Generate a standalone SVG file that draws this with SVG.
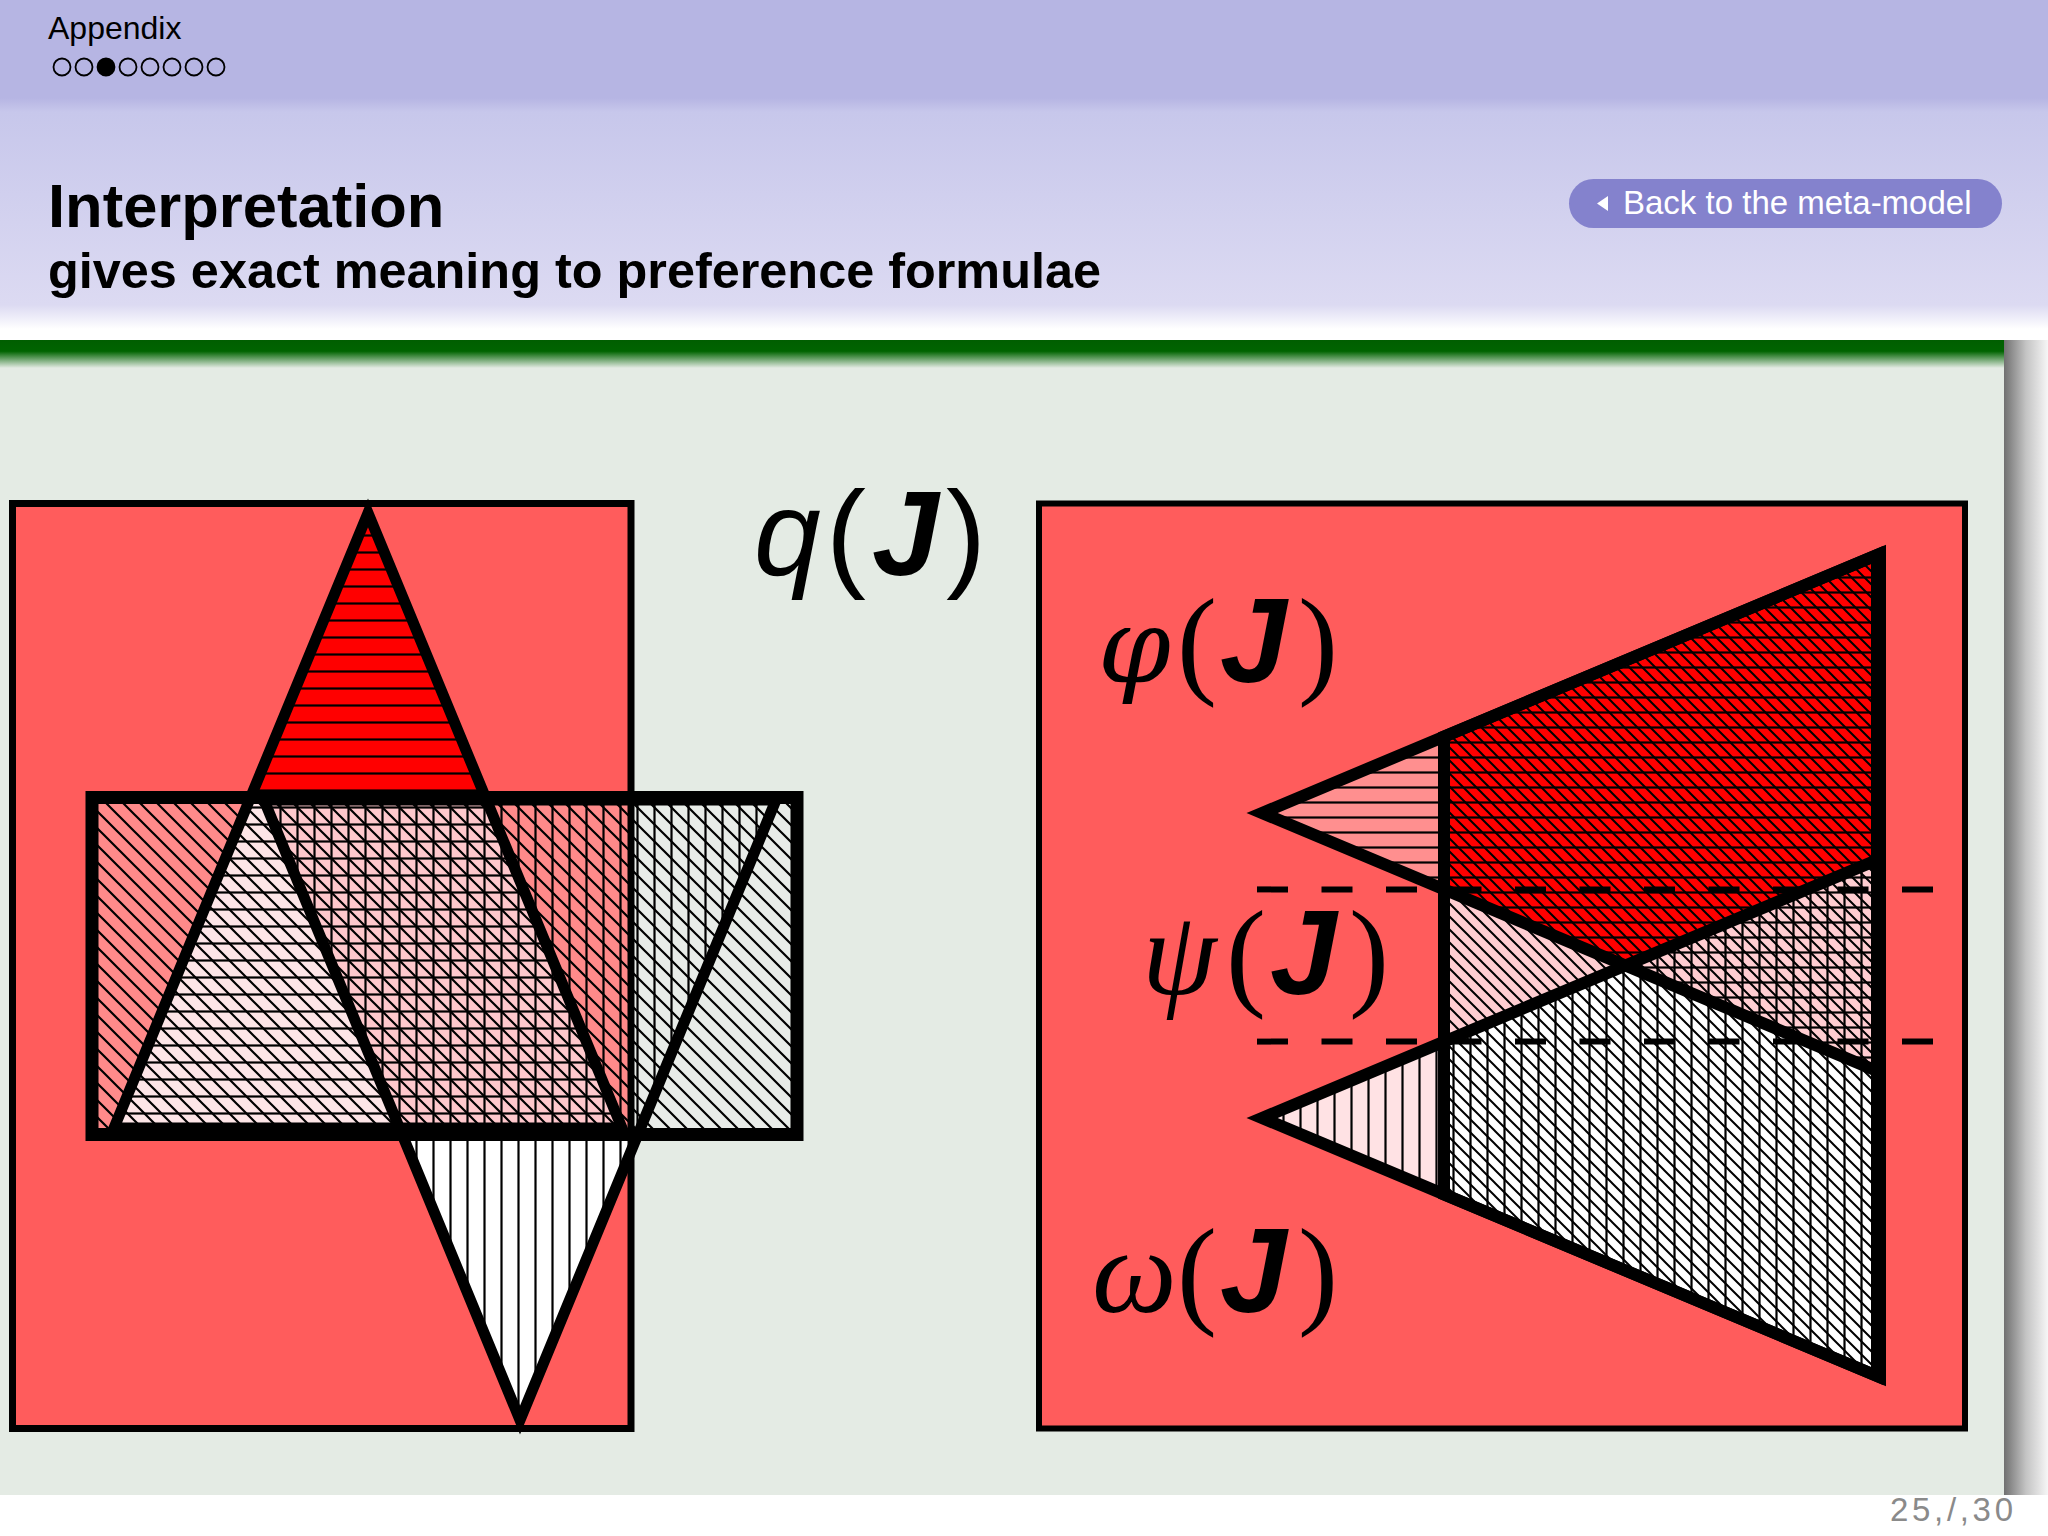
<svg xmlns="http://www.w3.org/2000/svg" width="2048" height="1536" viewBox="0 0 2048 1536">
<defs>
  <linearGradient id="gHdr" x1="0" y1="0" x2="0" y2="1">
    <stop offset="0" stop-color="#c7c7eb"/><stop offset="1" stop-color="#dcdaf2"/>
  </linearGradient>
  <linearGradient id="gFade" x1="0" y1="0" x2="0" y2="1">
    <stop offset="0" stop-color="#dcdaf2"/><stop offset="1" stop-color="#ffffff"/>
  </linearGradient>
  <linearGradient id="gSoft" x1="0" y1="0" x2="0" y2="1">
    <stop offset="0" stop-color="#b6b5e3"/><stop offset="1" stop-color="#c7c7eb"/>
  </linearGradient>
  <linearGradient id="gGreen" x1="0" y1="0" x2="0" y2="1">
    <stop offset="0" stop-color="#005e00"/><stop offset="0.4" stop-color="#006400"/><stop offset="1" stop-color="#e4ebe4"/>
  </linearGradient>
  <linearGradient id="gShadow" x1="0" y1="0" x2="1" y2="0">
    <stop offset="0" stop-color="#707070"/><stop offset="0.5" stop-color="#c4c4c4"/><stop offset="1" stop-color="#f6f6f6"/>
  </linearGradient>
  <pattern id="pH17" width="17" height="17" patternUnits="userSpaceOnUse"><path d="M-1 8.5H18" stroke="#000" stroke-width="2.2"/></pattern>
  <pattern id="pV17" width="17" height="17" patternUnits="userSpaceOnUse"><path d="M8.5 -1V18" stroke="#000" stroke-width="2.2"/></pattern>
  <pattern id="pNW17" width="17" height="17" patternUnits="userSpaceOnUse"><path d="M-2 -2L19 19M-3 14L3 20M14 -3L20 3" stroke="#000" stroke-width="2.2"/></pattern>
  <pattern id="pH15" width="15" height="15" patternUnits="userSpaceOnUse"><path d="M-1 7.5H16" stroke="#000" stroke-width="2.2"/></pattern>
  <pattern id="pNW13" width="13" height="13" patternUnits="userSpaceOnUse"><path d="M-2 -2L15 15M-3 10L3 16M10 -3L16 3" stroke="#000" stroke-width="2"/></pattern>
  <clipPath id="cA"><polygon points="368,513 114,1128 622,1128"/></clipPath>
  <clipPath id="cB"><polygon points="264,800 776,800 520,1420"/></clipPath>
  <clipPath id="cC"><rect x="92" y="797.5" width="705" height="337"/></clipPath>
  <clipPath id="cPhi"><polygon points="1262,813 1877,555 1877,1071"/></clipPath>
  <clipPath id="cOm"><polygon points="1262,1118 1877,860 1877,1376"/></clipPath>
  <clipPath id="cPsi"><polygon points="1444,736.6 1880,553.7 1880,1377.3 1444,1194.4"/></clipPath>
</defs>
<style>
  .edge { fill: none; stroke: #000; stroke-linejoin: miter; stroke-miterlimit: 10; }
  .sans { font-family: "Liberation Sans", Arial, sans-serif; }
  .serif { font-family: "Liberation Serif", "Times New Roman", serif; }
  .dserif { font-family: "DejaVu Serif", "Liberation Serif", serif; }
  .lab { font-size: 120px; fill: #000; }
</style>

<!-- page background -->
<rect x="0" y="0" width="2048" height="1536" fill="#ffffff"/>

<g id="header">
  <rect x="0" y="0" width="2048" height="98" fill="#b6b5e3"/>
  <rect x="0" y="98" width="2048" height="14" fill="url(#gSoft)"/>
  <rect x="0" y="112" width="2048" height="193" fill="url(#gHdr)"/>
  <rect x="0" y="305" width="2048" height="24" fill="url(#gFade)"/>
  <text class="sans" x="48" y="39" font-size="32" fill="#000">Appendix</text>
  <g id="nav-dots" fill="none" stroke="#000" stroke-width="1.8">
    <circle cx="62" cy="67" r="8.5"/>
    <circle cx="84" cy="67" r="8.5"/>
    <circle cx="106" cy="67" r="8.5" fill="#000"/>
    <circle cx="128" cy="67" r="8.5"/>
    <circle cx="150" cy="67" r="8.5"/>
    <circle cx="172" cy="67" r="8.5"/>
    <circle cx="194" cy="67" r="8.5"/>
    <circle cx="216" cy="67" r="8.5"/>
  </g>
  <text class="sans" x="48" y="227" font-size="61.5" font-weight="bold" fill="#000">Interpretation</text>
  <text class="sans" x="48" y="288" font-size="50.4" font-weight="bold" fill="#000">gives exact meaning to preference formulae</text>
  <g id="back-button">
    <rect x="1569" y="179" width="433" height="49" rx="24.5" fill="#8482cd"/>
    <polygon points="1597,203.5 1608,196 1608,211" fill="#ffffff"/>
    <text class="sans" x="1623" y="214" font-size="33" fill="#ffffff">Back to the meta-model</text>
  </g>
</g>

<g id="frame">
  <rect x="0" y="340" width="2004" height="1155" fill="#e4ebe4"/>
  <rect x="0" y="340" width="2004" height="28" fill="url(#gGreen)"/>
  <rect x="2004" y="340" width="44" height="1155" fill="url(#gShadow)"/>
  <text class="sans" x="1890" y="1521" font-size="33" fill="#8a8a8a" textLength="123" lengthAdjust="spacing">25,/,30</text>
</g>

<g id="left-figure">
  <rect id="q-set" x="12.5" y="503.5" width="618.5" height="925" fill="#ff5c5c"/>
  <polygon points="368,513 114,1128 622,1128" fill="#ff0000"/>
  <polygon points="264,800 776,800 520,1420" fill="#ffffff"/>
  <rect x="92" y="797.5" width="539" height="337" fill="#ff8a8a"/>
  <rect x="631" y="797.5" width="166" height="337" fill="#e8ece8"/>
  <g clip-path="url(#cC)">
    <polygon points="368,513 114,1128 622,1128" fill="#fde5e7"/>
    <g clip-path="url(#cA)">
      <polygon points="264,800 776,800 520,1420" fill="#fec8cc"/>
    </g>
  </g>
  <polygon points="368,513 114,1128 622,1128" fill="url(#pH17)"/>
  <polygon points="264,800 776,800 520,1420" fill="url(#pV17)"/>
  <rect x="92" y="797.5" width="705" height="337" fill="url(#pNW17)"/>
  <rect x="12.5" y="503.5" width="618.5" height="925" class="edge" stroke-width="7"/>
  <rect x="92" y="797.5" width="705" height="337" class="edge" stroke-width="13"/>
  <polygon points="368,513 114,1128 622,1128" class="edge" stroke-width="11"/>
  <polygon points="264,800 776,800 520,1420" class="edge" stroke-width="11"/>
</g>

<g id="label-q">
  <text class="lab" y="575"><tspan class="sans" x="754" font-style="italic">q</tspan><tspan class="sans" x="826">(</tspan><tspan class="sans" x="872" font-weight="bold" font-style="italic">J</tspan><tspan class="sans" x="946">)</tspan></text>
</g>

<g id="right-figure">
  <rect x="1039" y="503.5" width="926" height="925" fill="#ff5c5c"/>
  <polygon points="1262,813 1877,555 1877,1071" fill="#ff8f8f"/>
  <polygon points="1262,1118 1877,860 1877,1376" fill="#ffe2e4"/>
  <polygon points="1444,736.6 1880,553.7 1880,1377.3 1444,1194.4" fill="#ffcdd1"/>
  <polygon points="1444,736.6 1877,555 1877,860 1625.1,965.5 1444,889.4" fill="#ff0000"/>
  <polygon points="1444,1041.6 1625.1,965.5 1877,1071 1877,1376 1444,1194.4" fill="#ffffff"/>
  <polygon points="1262,813 1877,555 1877,1071" fill="url(#pH15)"/>
  <polygon points="1262,1118 1877,860 1877,1376" fill="url(#pV17)"/>
  <polygon points="1444,736.6 1880,553.7 1880,1377.3 1444,1194.4" fill="url(#pNW13)"/>
  <g id="dashes" stroke="#000" stroke-width="6" stroke-dasharray="31 33.5">
    <line x1="1257" y1="889.4" x2="1935" y2="889.4"/>
    <line x1="1257" y1="1041.6" x2="1935" y2="1041.6"/>
  </g>
  <rect x="1039" y="503.5" width="926" height="925" class="edge" stroke-width="6"/>
  <polygon points="1444,736.6 1880,553.7 1880,1377.3 1444,1194.4" class="edge" stroke-width="12"/>
  <polygon id="phi-set" points="1262,813 1877,555 1877,1071" class="edge" stroke-width="12"/>
  <polygon id="omega-set" points="1262,1118 1877,860 1877,1376" class="edge" stroke-width="12"/>
</g>

<g id="label-phi">
  <text class="lab" y="682"><tspan class="dserif" x="1098" font-style="italic" font-size="104">φ</tspan><tspan class="serif" x="1177">(</tspan><tspan class="sans" x="1220" font-weight="bold" font-style="italic">J</tspan><tspan class="serif" x="1298">)</tspan></text>
</g>
<g id="label-psi">
  <text class="lab" y="994"><tspan class="serif" x="1142" font-style="italic">ψ</tspan><tspan class="serif" x="1226">(</tspan><tspan class="sans" x="1270" font-weight="bold" font-style="italic">J</tspan><tspan class="serif" x="1349">)</tspan></text>
</g>
<g id="label-omega">
  <text class="lab" y="1312"><tspan class="serif" x="1092" font-style="italic">ω</tspan><tspan class="serif" x="1177">(</tspan><tspan class="sans" x="1220" font-weight="bold" font-style="italic">J</tspan><tspan class="serif" x="1298">)</tspan></text>
</g>
</svg>
